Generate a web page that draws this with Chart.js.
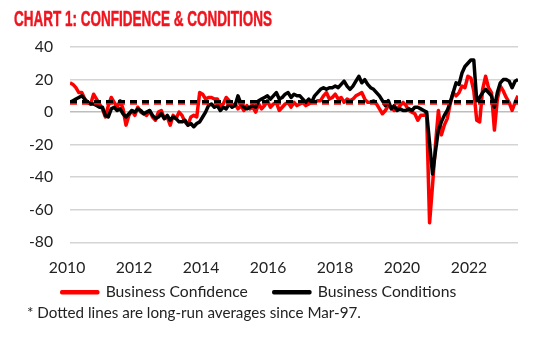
<!DOCTYPE html>
<html>
<head>
<meta charset="utf-8">
<script src="https://cdn.jsdelivr.net/npm/chart.js@4"></script>
<style>
  html, body { margin: 0; padding: 0; background: #fff; }
  body { width: 552px; height: 350px; position: relative; overflow: hidden; font-family: Lato, sans-serif; }
  #wrap { position: absolute; left: 0; top: 0; }
  #title { position: absolute; left: 14px; top: 9px; font: bold 21.5px/1 "Liberation Sans Narrow", sans-serif; color: #f0141e; -webkit-text-stroke: 0.5px #f0141e; white-space: nowrap; transform-origin: 0 0; }
  #note { position: absolute; left: 27px; top: 303px; font: 15.2px/18px Lato, sans-serif; color: #222; white-space: nowrap; }
</style>
</head>
<body>
<div id="wrap"><canvas id="chart" width="552" height="330"></canvas></div>
<div id="title">CHART 1: CONFIDENCE &amp; CONDITIONS</div>
<div id="note">* Dotted lines are long-run averages since Mar-97.</div>
<script>
// monthly, Jan 2010 - Sep 2022
const confidence = [
  18, 17, 15, 12, 12, 8, 6, 5, 11, 8, 5, 2,
  -3, 4, 9, 6, 3, 7, 2, -8, -2, 1, -2, 3,
  0, -1, -2, 1, -3, -5, 0, 1, -4, -3, -8, -2,
  -4, 0, -2, -6, -8, -3, -2, -3, 12, 11, 8, 9,
  9, 8, 8, 4, 5, 9, 7, 4, 5, 2, 4, 1,
  4, 2, 3, 0, 5, 2, 4, 7, 3, 5, 6, 1,
  3, 5, 6, 3, 6, 4, 5, 6, 4, 5, 7, 6,
  7, 7, 10, 12, 8, 9, 11, 8, 9, 6, 8, 7,
  8, 10, 11, 12, 8, 6, 6, 7, 5, 2, -1, 1,
  4, 3, 1, 2, 4, 6, 4, 1, 0, -1, -5, -2,
  -2, -1, -68, -45, -20, 1, -14, -8, -4, 5, 12, 10,
  12, 16, 15, 22, 21, 13, -5, -6, 14, 22, 15, 12,
  -11, 8, 16, 13, 9, 6, 1, 6, 10
];
const conditions = [
  6, 7, 8, 9, 10, 8, 6, 5, 5, 4, 3, 3,
  -2, -3, 2, 3, 1, 2, -1, -3, -1, 1, 0, 2,
  1, -1, 0, 1, -2, -4, -3, -1, -4, -2, -5, -3,
  -4, -6, -6, -5, -8, -7, -9, -7, -6, -3, 0, 4,
  5, 3, 4, 1, 3, 2, 5, 3, 4, 10, 5, 3,
  2, 3, 4, 3, 7, 8, 9, 10, 8, 10, 12, 8,
  9, 11, 12, 9, 11, 10, 10, 8, 6, 8, 6, 10,
  12, 14, 15, 14, 15, 15, 16, 15, 17, 19, 16, 14,
  16, 19, 22, 18, 20, 17, 15, 14, 12, 10, 7, 4,
  7, 2, 4, 1, 2, 1, 1, 2, 1, 3, 3, 2,
  1, 0, -19, -38, -24, -11, -6, -2, 1, 6, 12, 18,
  17, 24, 28, 30, 32, 32, 7, 9, 12, 14, 12, 10,
  3, 12, 18, 20, 20, 19, 15, 19, 20
];
const confidenceAvg = 5.5;
const conditionsAvg = 6.5;
const yearLabels = ["2010", "2012", "2014", "2016", "2018", "2020", "2022"];
const yTicks = [-80, -60, -40, -20, 0, 20, 40];

// title is set in a narrow face, squeeze it to the reference width
const title = document.getElementById("title");
title.style.transform = `scaleX(${258 / title.getBoundingClientRect().width})`;

Chart.defaults.font.family = "Lato";
Chart.defaults.font.size = 15.7;
Chart.defaults.color = "#222";

const last = confidence.length - 1;
const toPoints = (arr) => arr.map((v, i) => ({ x: i, y: v }));
const flat = (v) => [{ x: 0, y: v }, { x: last, y: v }];

// legend spacing comes from its padding, so pull the box back up under the labels
const liftLegend = {
  id: "liftLegend",
  afterLayout(chart) {
    chart.legend.top -= 20;
    chart.legend.bottom -= 20;
  },
};

const ctx = document.getElementById("chart").getContext("2d");
const chart = new Chart(ctx, {
  type: "line",
  plugins: [liftLegend],
  data: {
    datasets: [
      {
        label: "Business Confidence",
        data: toPoints(confidence),
        borderColor: "#ff0000",
        backgroundColor: "#ff0000",
        borderWidth: 3.5,
        order: 3,
      },
      {
        label: "Business Conditions",
        data: toPoints(conditions),
        borderColor: "#000",
        backgroundColor: "#000",
        borderWidth: 3.5,
        order: 2,
      },
      {
        label: "conf avg",
        data: flat(confidenceAvg),
        borderColor: "#ff0000",
        borderWidth: 3,
        borderDash: [7, 5],
        order: 1,
      },
      {
        label: "cond avg",
        data: flat(conditionsAvg),
        borderColor: "#000",
        borderWidth: 3,
        borderDash: [7, 5],
        order: 0,
      },
    ],
  },
  options: {
    responsive: false,
    animation: false,
    layout: { padding: { left: 0, right: 34, top: 47, bottom: 0 } },
    elements: {
      point: { radius: 0 },
      line: { tension: 0, borderJoinStyle: "round", borderCapStyle: "butt" },
    },
    plugins: {
      tooltip: { enabled: false },
      legend: {
        position: "bottom",
        labels: {
          boxWidth: 36,
          boxHeight: 1,
          padding: 26,
          color: "#222",
          filter: (item) => item.datasetIndex < 2,
          sort: (a, b) => a.datasetIndex - b.datasetIndex,
        },
      },
    },
    scales: {
      x: {
        type: "linear",
        min: 0,
        max: last,
        grid: { display: false },
        border: { display: false },
        afterFit: (scale) => { scale.height = 36; },
        afterBuildTicks: (scale) => {
          scale.ticks = yearLabels.map((_, i) => ({ value: -1 + i * 22.73 }));
        },
        ticks: {
          autoSkip: false,
          maxRotation: 0,
          padding: 8,
          callback: (v, i) => yearLabels[i],
        },
      },
      y: {
        min: -80,
        max: 40,
        afterFit: (scale) => { scale.width = 70; },
        afterBuildTicks: (scale) => {
          scale.ticks = yTicks.map((v) => ({ value: v }));
        },
        grid: {
          drawTicks: false,
          lineWidth: 1.5,
          color: (c) => (c.tick && c.tick.value === 0 ? "#bdbdbd" : "#d4d4d4"),
        },
        border: { display: false },
        ticks: { padding: 17 },
      },
    },
  },
});
</script>
</body>
</html>
